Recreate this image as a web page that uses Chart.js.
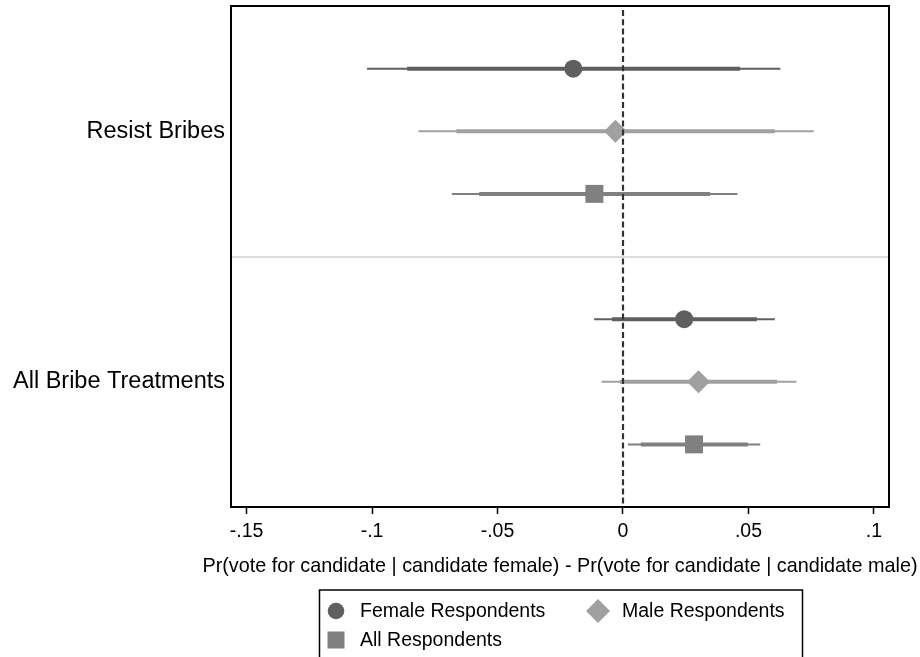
<!DOCTYPE html>
<html>
<head>
<meta charset="utf-8">
<script src="https://cdn.jsdelivr.net/npm/chart.js@4.4.1/dist/chart.umd.min.js"></script>
<style>
  html, body { margin: 0; background: #fff; }
  #wrap { width: 920px; height: 657px; }
</style>
</head>
<body>
<div id="wrap"><canvas id="coefChart" width="920" height="657"></canvas></div>
<script>
// categories (rows) and series
const categories = ['Resist Bribes', 'All Bribe Treatments'];
const seriesNames = ['Female Respondents', 'Male Respondents', 'All Respondents'];
const xTicks = [-0.15, -0.1, -0.05, 0, 0.05, 0.1];
const xTitle = 'Pr(vote for candidate | candidate female) - Pr(vote for candidate | candidate male)';

// estimates + intervals, one value per category
const femaleEst  = [-0.0198, 0.0244];
const femaleLo90 = [-0.0860, -0.0044];
const femaleHi90 = [0.0467, 0.0534];
const femaleLo95 = [-0.1020, -0.0115];
const femaleHi95 = [0.0627, 0.0605];

const maleEst  = [-0.0030, 0.0301];
const maleLo90 = [-0.0664, -0.0012];
const maleHi90 = [0.0605, 0.0614];
const maleLo95 = [-0.0815, -0.0085];
const maleHi95 = [0.0760, 0.0691];

const allEst  = [-0.0114, 0.0283];
const allLo90 = [-0.0573, 0.0071];
const allHi90 = [0.0347, 0.0498];
const allLo95 = [-0.0682, 0.0020];
const allHi95 = [0.0456, 0.0547];

const FONT = "'Liberation Sans', Arial, sans-serif";

// styling per series
const series = [
  { name: seriesNames[0], est: femaleEst, lo90: femaleLo90, hi90: femaleHi90, lo95: femaleLo95, hi95: femaleHi95, color: '#5f5f5f', style: 'circle', r: 9 },
  { name: seriesNames[1], est: maleEst, lo90: maleLo90, hi90: maleHi90, lo95: maleLo95, hi95: maleHi95, color: '#a0a0a0', style: 'rectRot', r: 11.5 },
  { name: seriesNames[2], est: allEst, lo90: allLo90, hi90: allHi90, lo95: allLo95, hi95: allHi95, color: '#808080', style: 'rect', r: 12.7 }
];

// row position on the y scale: category block of 4, series inside it
const rowY = (ci, si) => ci * 4 + si + 1;
const catY = categories.map((c, ci) => rowY(ci, 1));

const datasets = [];
series.forEach((s, si) => {
  datasets.push({
    label: s.name, data: s.est.map((v, ci) => ({ x: v, y: rowY(ci, si) })),
    pointStyle: s.style, pointRadius: s.r, pointHoverRadius: s.r,
    backgroundColor: s.color, borderWidth: 0, order: 0
  });
  categories.forEach((c, ci) => {
    datasets.push({
      data: [{ x: s.lo90[ci], y: rowY(ci, si) }, { x: s.hi90[ci], y: rowY(ci, si) }],
      showLine: true, borderColor: s.color, borderWidth: 4, pointRadius: 0, order: 1
    });
    datasets.push({
      data: [{ x: s.lo95[ci], y: rowY(ci, si) }, { x: s.hi95[ci], y: rowY(ci, si) }],
      showLine: true, borderColor: s.color, borderWidth: 2, pointRadius: 0, order: 2
    });
  });
});

function fmtTick(v) {
  if (Math.abs(v) < 1e-9) return '0';
  return v.toFixed(2).replace(/0+$/, '').replace('0.', '.');
}

// dashed zero line + plot frame
const framePlugin = {
  id: 'frame',
  afterDatasetsDraw(chart) {
    const { ctx, chartArea: a, scales: { x } } = chart;
    const zx = Math.round(x.getPixelForValue(0));
    ctx.save();
    ctx.strokeStyle = '#333';
    ctx.lineWidth = 2.2;
    ctx.setLineDash([6, 3.2]);
    ctx.beginPath();
    ctx.moveTo(zx, a.top + 4);
    ctx.lineTo(zx, a.bottom);
    ctx.stroke();
    ctx.setLineDash([]);
    ctx.strokeStyle = '#000';
    ctx.lineWidth = 2;
    ctx.strokeRect(a.left, a.top, a.right - a.left, a.bottom - a.top);
    ctx.restore();
  }
};

// axis title (wider than the plot, so drawn here) + stata style legend box
const legendPlugin = {
  id: 'boxLegend',
  afterDraw(chart) {
    const ctx = chart.ctx;
    ctx.save();
    ctx.font = '19.8px ' + FONT;
    ctx.fillStyle = '#000';
    ctx.textAlign = 'center';
    ctx.textBaseline = 'middle';
    ctx.fillText(xTitle, 560, 567);

    const box = { x: 319.5, y: 590, w: 483, h: 80 };
    const slots = [[336, 611], [598, 611], [336, 640]];
    ctx.strokeStyle = '#000';
    ctx.lineWidth = 1.5;
    ctx.strokeRect(box.x, box.y, box.w, box.h);
    ctx.font = '19.5px ' + FONT;
    ctx.textAlign = 'left';
    series.forEach((s, i) => {
      const [px, py] = slots[i];
      ctx.fillStyle = s.color;
      ctx.beginPath();
      if (s.style === 'circle') {
        ctx.arc(px, py, 8.3, 0, Math.PI * 2);
      } else if (s.style === 'rectRot') {
        ctx.moveTo(px - 12, py); ctx.lineTo(px, py - 12);
        ctx.lineTo(px + 12, py); ctx.lineTo(px, py + 12);
        ctx.closePath();
      } else {
        ctx.rect(px - 8.5, py - 8.5, 17, 17);
      }
      ctx.fill();
      ctx.fillStyle = '#000';
      ctx.fillText(s.name, 360 + (i === 1 ? 262 : 0), py + 1);
    });
    ctx.restore();
  }
};

new Chart(document.getElementById('coefChart'), {
  type: 'scatter',
  data: { datasets },
  plugins: [framePlugin, legendPlugin],
  options: {
    responsive: false,
    animation: false,
    layout: { autoPadding: false, padding: { top: 6, right: 31, left: 0, bottom: 0 } },
    plugins: { legend: { display: false }, tooltip: { enabled: false } },
    scales: {
      x: {
        type: 'linear', min: -0.1562, max: 0.106,
        afterBuildTicks: sc => { sc.ticks = xTicks.map(v => ({ value: v })); },
        afterFit: sc => { sc.height = 150; sc.paddingLeft = 0; sc.paddingRight = 0; },
        border: { display: false },
        grid: { drawOnChartArea: false, drawTicks: true, tickLength: 7, tickColor: '#000', tickWidth: 1.5 },
        ticks: { callback: v => fmtTick(v), color: '#000', padding: 6, maxRotation: 0,
                 font: { family: FONT, size: 19.5 } }
      },
      y: {
        type: 'linear', min: 0, max: 8, reverse: true,
        afterBuildTicks: sc => { sc.ticks = [catY[0], 4, catY[1]].map(v => ({ value: v })); },
        afterFit: sc => { sc.width = 231; sc.paddingTop = 0; sc.paddingBottom = 0; },
        border: { display: false },
        grid: { drawTicks: false, lineWidth: 2,
                color: c => (c.tick && c.tick.value === 4) ? '#dcdcdc' : 'rgba(0,0,0,0)' },
        ticks: { color: '#000', padding: 6, font: { family: FONT, size: 23.5, lineHeight: 0.2 },
                 callback: v => { const i = catY.indexOf(v); return i >= 0 ? categories[i] : ''; } }
      }
    }
  }
});
</script>
</body>
</html>
